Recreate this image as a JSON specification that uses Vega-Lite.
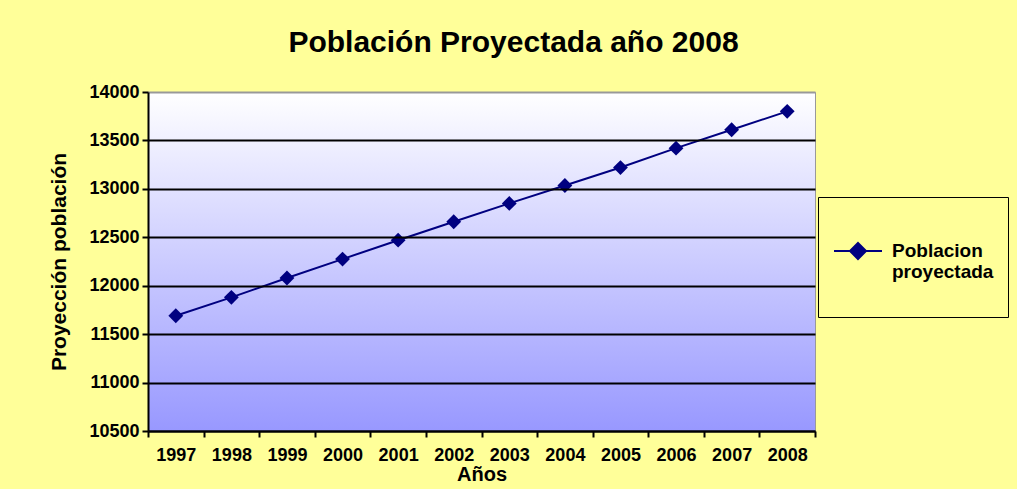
{
  "$schema": "https://vega.github.io/schema/vega-lite/v6.json",
  "width": 667,
  "height": 339,
  "autosize": "none",
  "padding": {"left": 148, "top": 92, "right": 202, "bottom": 58},
  "background": "#FFFF99",
  "title": {
    "text": "Población Proyectada año 2008",
    "font": "Liberation Sans",
    "fontSize": 30,
    "fontWeight": "bold",
    "color": "black",
    "anchor": "middle",
    "frame": "group",
    "dx": 32,
    "offset": 25
  },
  "data": {
    "values": [
      {"year": "1997", "pop": 11690, "serie": "Poblacion proyectada"},
      {"year": "1998", "pop": 11880, "serie": "Poblacion proyectada"},
      {"year": "1999", "pop": 12080, "serie": "Poblacion proyectada"},
      {"year": "2000", "pop": 12275, "serie": "Poblacion proyectada"},
      {"year": "2001", "pop": 12470, "serie": "Poblacion proyectada"},
      {"year": "2002", "pop": 12660, "serie": "Poblacion proyectada"},
      {"year": "2003", "pop": 12850, "serie": "Poblacion proyectada"},
      {"year": "2004", "pop": 13035, "serie": "Poblacion proyectada"},
      {"year": "2005", "pop": 13220, "serie": "Poblacion proyectada"},
      {"year": "2006", "pop": 13420, "serie": "Poblacion proyectada"},
      {"year": "2007", "pop": 13610, "serie": "Poblacion proyectada"},
      {"year": "2008", "pop": 13800, "serie": "Poblacion proyectada"}
    ]
  },
  "layer": [
    {
      "data": {"values": [{"bg": 1}]},
      "mark": {
        "type": "rect",
        "color": {
          "gradient": "linear",
          "x1": 0, "y1": 0, "x2": 0, "y2": 1,
          "stops": [
            {"offset": 0, "color": "#FFFFFF"},
            {"offset": 1, "color": "#9898FF"}
          ]
        }
      },
      "encoding": {}
    },
    {
      "mark": {"type": "line", "color": "#000080", "strokeWidth": 2},
      "encoding": {
        "x": {
          "field": "year",
          "type": "ordinal",
          "scale": {"type": "band", "paddingInner": 0, "paddingOuter": 0},
          "axis": {
            "title": "Años",
            "titleFontSize": 20,
            "titleFontWeight": "bold",
            "titlePadding": 0,
            "labelAngle": 0,
            "labelFontSize": 18,
            "labelFontWeight": "bold",
            "labelPadding": 9,
            "tickBand": "extent",
            "tickSize": 6,
            "tickWidth": 2,
            "tickColor": "black",
            "domainColor": "black",
            "domainWidth": 2,
            "grid": false,
            "zindex": 1
          }
        },
        "y": {
          "field": "pop",
          "type": "quantitative",
          "scale": {"domain": [10500, 14000], "nice": false, "zero": false},
          "axis": {
            "title": "Proyección población",
            "titleFontSize": 21,
            "titleFontWeight": "bold",
            "titlePadding": 19,
            "values": [10500, 11000, 11500, 12000, 12500, 13000, 13500, 14000],
            "format": "d",
            "labelFontSize": 18,
            "labelFontWeight": "bold",
            "labelPadding": 3,
            "tickSize": 6,
            "tickWidth": 2,
            "tickColor": "black",
            "domainColor": "black",
            "domainWidth": 2,
            "grid": true,
            "gridColor": {"condition": {"test": "datum.value === 14000", "value": "#999999"}, "value": "black"},
            "gridWidth": 2,
            "gridOpacity": 1,
            "zindex": 1
          }
        }
      }
    },
    {
      "mark": {"type": "point", "shape": "diamond", "filled": true, "size": 220, "opacity": 1},
      "encoding": {
        "x": {"field": "year", "type": "ordinal"},
        "y": {"field": "pop", "type": "quantitative"},
        "color": {
          "field": "serie",
          "type": "nominal",
          "scale": {"domain": ["Poblacion proyectada"], "range": ["#000080"]},
          "legend": {
            "title": " ",
            "titleFontSize": 10,
            "titlePadding": 4,
            "orient": "none",
            "legendX": 670,
            "legendY": 105,
            "fillColor": "#FFFF99",
            "strokeColor": "black",
            "padding": 14,
            "symbolType": "M-0.96,0L0.96,0M0,-0.32L0.32,0L0,0.32L-0.32,0Z",
            "symbolSize": 2500,
            "symbolStrokeColor": "#000080",
            "symbolFillColor": "#000080",
            "symbolStrokeWidth": 2,
            "symbolOpacity": 1,
            "labelExpr": "['Poblacion', 'proyectada', '']",
            "labelFontSize": 19,
            "labelFontWeight": "bold",
            "labelColor": "black",
            "labelOffset": 8,
            "labelLimit": 300
          }
        }
      }
    }
  ],
  "config": {
    "font": "Liberation Sans",
    "axis": {"labelColor": "black", "titleColor": "black"},
    "view": {"stroke": "#999999", "strokeWidth": 1}
  }
}
